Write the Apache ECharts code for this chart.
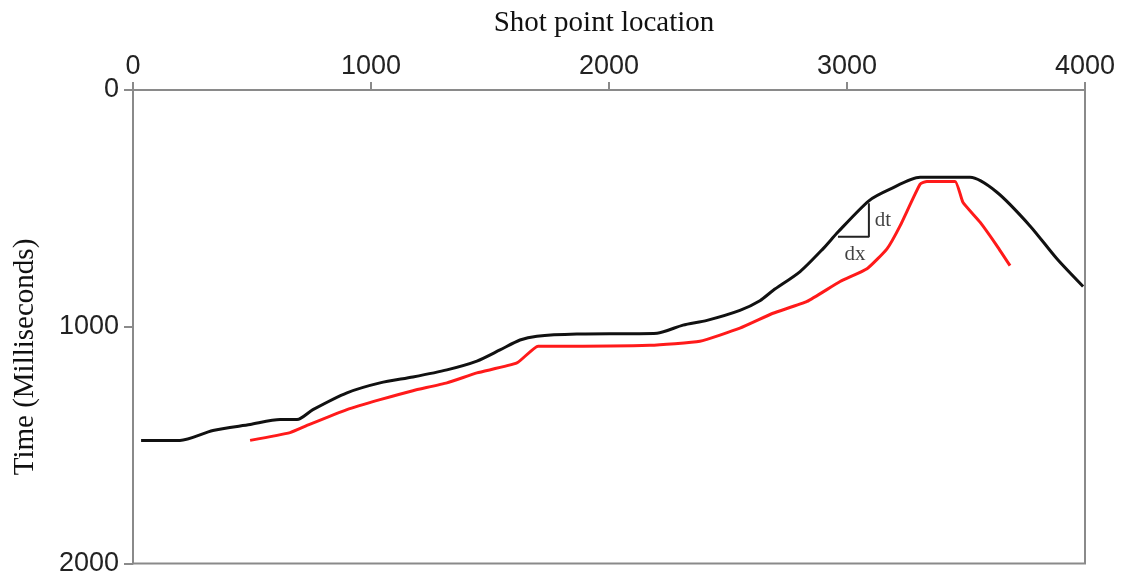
<!DOCTYPE html>
<html>
<head>
<meta charset="utf-8">
<script src="https://cdn.jsdelivr.net/npm/echarts@6/dist/echarts.min.js"></script>
<style>
  html, body { margin: 0; padding: 0; background: #fff; }
  #chart { width: 1123px; height: 577px; }
</style>
</head>
<body>
<div id="chart"></div>
<script>
// picked horizon (black) and migrated event (red): [shot point, time ms]
const blackCurve = [
    [34, 1480], [197, 1480], [336, 1438], [492, 1413], [618, 1392], [689, 1392],
    [756, 1350], [899, 1279], [1038, 1237], [1176, 1212], [1319, 1182], [1445, 1145],
    [1542, 1098], [1626, 1056], [1697, 1040], [1865, 1031], [2202, 1027], [2311, 993],
    [2412, 973], [2550, 931], [2634, 890], [2689, 847], [2803, 767], [2899, 671],
    [2962, 600], [3092, 468], [3181, 419], [3307, 369], [3517, 369], [3630, 432],
    [3769, 574], [3882, 713], [3992, 830]
]
const redCurve = [
    [492, 1480], [660, 1447], [731, 1417], [899, 1350], [1038, 1308], [1176, 1270],
    [1319, 1237], [1445, 1195], [1613, 1153], [1702, 1082], [1752, 1082], [2172, 1078],
    [2382, 1061], [2550, 1006], [2689, 943], [2832, 893], [2971, 809], [3084, 755],
    [3168, 671], [3223, 574], [3307, 398], [3336, 386], [3454, 386], [3487, 474],
    [3559, 558], [3630, 658], [3685, 742]
]
// slope triangle and its labels
const slopeTriangle = [[2962, 620], [3092, 620], [3092, 478]]
const slopeLabels = ['dt', 'dx']
const slopeLabelAt = [[3151, 553], [3034, 696]]

const xTitle = 'Shot point location'
const yTitle = 'Time (Milliseconds)'

const axisGray = '#8a8a8a'
const tickFont = { fontSize: 27, color: '#222', fontFamily: 'Liberation Sans', formatter: v => String(v) }

const myChart = echarts.init(document.getElementById('chart'))

myChart.setOption({
    animation: false,
    grid: {
        left: 133, right: 38, top: 90, bottom: 10,
        show: true,
        borderColor: axisGray,
        borderWidth: 2
    },
    xAxis: {
        type: 'value',
        position: 'top',
        min: 0, max: 4000, interval: 1000,
        name: xTitle,
        nameLocation: 'middle',
        nameGap: 52,
        nameTextStyle: { fontSize: 29, fontFamily: 'Liberation Serif', color: '#111', padding: [0, 10, 0, 0] },
        axisLine: { lineStyle: { color: axisGray, width: 2 } },
        axisTick: { length: 8, lineStyle: { color: axisGray, width: 2 } },
        axisLabel: Object.assign({ margin: 10 }, tickFont),
        splitLine: { show: false }
    },
    yAxis: {
        type: 'value',
        inverse: true,
        min: 0, max: 2000, interval: 1000,
        axisLine: { lineStyle: { color: axisGray, width: 2 } },
        axisTick: { length: 9, lineStyle: { color: axisGray, width: 2 } },
        axisLabel: Object.assign({ margin: 14 }, tickFont),
        splitLine: { show: false }
    },
    graphic: [{
        type: 'text',
        x: 25, y: 357,
        rotation: Math.PI / 2,
        style: {
            text: yTitle,
            font: '29px "Liberation Serif"',
            fill: '#111',
            textAlign: 'center',
            textVerticalAlign: 'middle'
        }
    }],
    series: [
        {
            type: 'line',
            data: blackCurve,
            showSymbol: false,
            smooth: 0.25,
            lineStyle: { color: '#111', width: 3 },
            z: 3
        },
        {
            type: 'line',
            data: redCurve,
            showSymbol: false,
            smooth: 0.15,
            lineStyle: { color: '#ff1a1a', width: 3 },
            z: 2
        },
        {
            type: 'line',
            data: slopeTriangle,
            showSymbol: false,
            lineStyle: { color: '#222', width: 2 },
            z: 4
        },
        {
            type: 'scatter',
            symbolSize: 0,
            data: slopeLabels.map((n, i) => ({ name: n, value: slopeLabelAt[i] })),
            label: {
                show: true,
                position: 'inside',
                formatter: p => p.name,
                fontFamily: 'Liberation Serif',
                fontSize: 21,
                color: '#111'
            }
        }
    ]
})
</script>
</body>
</html>
